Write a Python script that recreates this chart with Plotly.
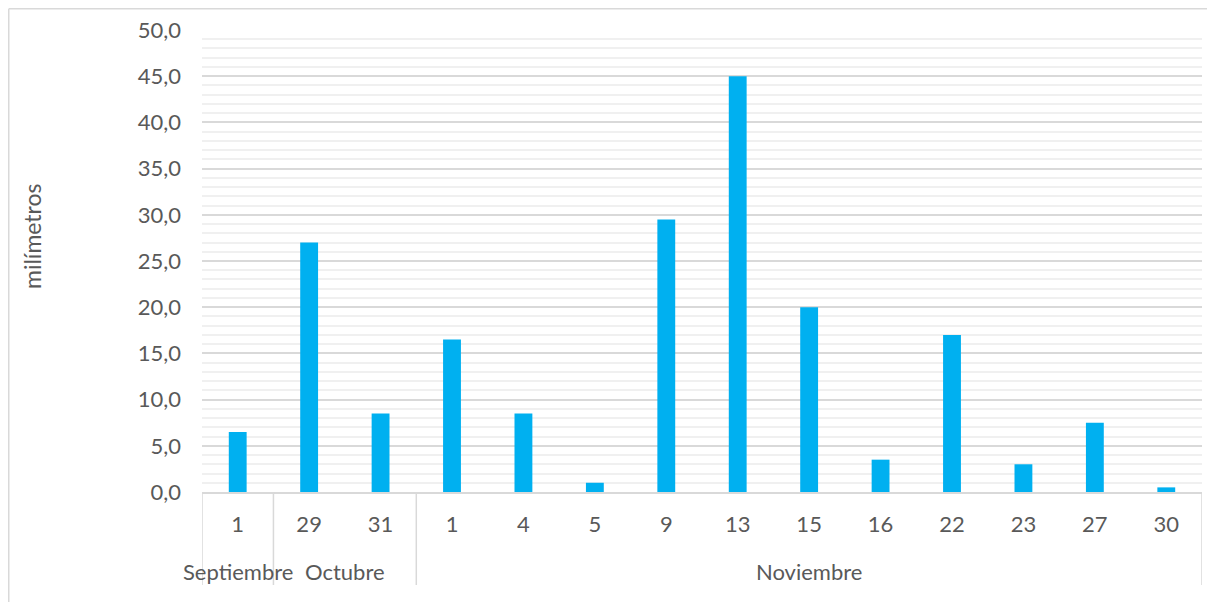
import plotly.graph_objects as go

days = ["1", "29", "31", "1", "4", "5", "9", "13", "15", "16", "22", "23", "27", "30"]
months = ["Septiembre", "Octubre", "Noviembre"]
month_counts = [1, 2, 11]
values = [6.5, 27.0, 8.5, 16.5, 8.5, 1.0, 29.5, 45.0, 20.0, 3.5, 17.0, 3.0, 7.5, 0.5]

# page has an 8px body margin; figure sits at (8, 8)
OFF = 8
W, H = 1215 - 2 * OFF, 610 - 2 * OFF
PL, PR, PT, PB = 202, 1202, 30, 492  # plot area in page pixels
ML, MT = PL - OFF, PT - OFF
MR, MB = (OFF + W) - PR, (OFF + H) - PB
pw, ph = PR - PL, PB - PT

FONT = "Lato"
FS = 22
GREY = "#595959"
LINE = "#d9d9d9"


def py(page_y):
    return (PB - page_y) / ph


def px(page_x):
    return (page_x - PL) / pw


x_idx = list(range(len(days)))

fig = go.Figure()
fig.add_trace(go.Bar(x=x_idx, y=values, marker=dict(color="#00b0f0", line=dict(width=0)),
                     width=0.25, hoverinfo="y"))

shapes = []
annotations = []
bounds = [-0.5]
for c in month_counts:
    bounds.append(bounds[-1] + c)
for b in bounds:
    shapes.append(dict(type="line", xref="x", yref="paper", x0=b, x1=b, y0=0, y1=py(585),
                       line=dict(color=LINE, width=1.5)))
for i, m in enumerate(months):
    cx = (bounds[i] + bounds[i + 1]) / 2
    annotations.append(dict(text=m, xref="x", yref="paper", x=cx, y=py(571), showarrow=False,
                            xanchor="center", yanchor="middle", font=dict(family=FONT, size=FS, color=GREY)))

# outer chart border (top and left edges)
shapes.append(dict(type="line", xref="paper", yref="paper", x0=px(OFF + 0.75), x1=px(1300),
                   y0=py(OFF + 0.75), y1=py(OFF + 0.75), line=dict(color=LINE, width=1.5)))
shapes.append(dict(type="line", xref="paper", yref="paper", x0=px(OFF + 0.75), x1=px(OFF + 0.75),
                   y0=py(OFF + 0.75), y1=py(700), line=dict(color=LINE, width=1.5)))

annotations.append(dict(text="milímetros", xref="paper", yref="paper", x=px(32), y=py(236),
                        textangle=-90, showarrow=False, xanchor="center", yanchor="middle",
                        font=dict(family=FONT, size=FS + 1, color=GREY)))

fig.update_layout(
    width=W, height=H,
    margin=dict(l=ML, r=MR, t=MT, b=MB, pad=0),
    paper_bgcolor="white", plot_bgcolor="white",
    separators=",.",
    showlegend=False,
    shapes=shapes, annotations=annotations,
    font=dict(family=FONT, size=FS, color=GREY),
)
fig.update_xaxes(
    range=[-0.5, len(days) - 0.5],
    tickmode="array", tickvals=x_idx, ticktext=days,
    showgrid=False, zeroline=False,
    showline=True, linecolor=LINE, linewidth=1.5,
    ticks="", ticklabelstandoff=12,
    tickfont=dict(family=FONT, size=FS, color=GREY),
    fixedrange=True,
)
fig.update_yaxes(
    range=[0, 50], dtick=5, tick0=0, tickformat=".1f",
    showgrid=True, gridcolor=LINE, gridwidth=1.5,
    minor=dict(dtick=1, showgrid=True, gridcolor="#f0f0f0", gridwidth=1.5),
    zeroline=False, showline=False, ticks="", ticklabelstandoff=20,
    tickfont=dict(family=FONT, size=FS, color=GREY),
    fixedrange=True,
)

fig.write_html("out.html")
